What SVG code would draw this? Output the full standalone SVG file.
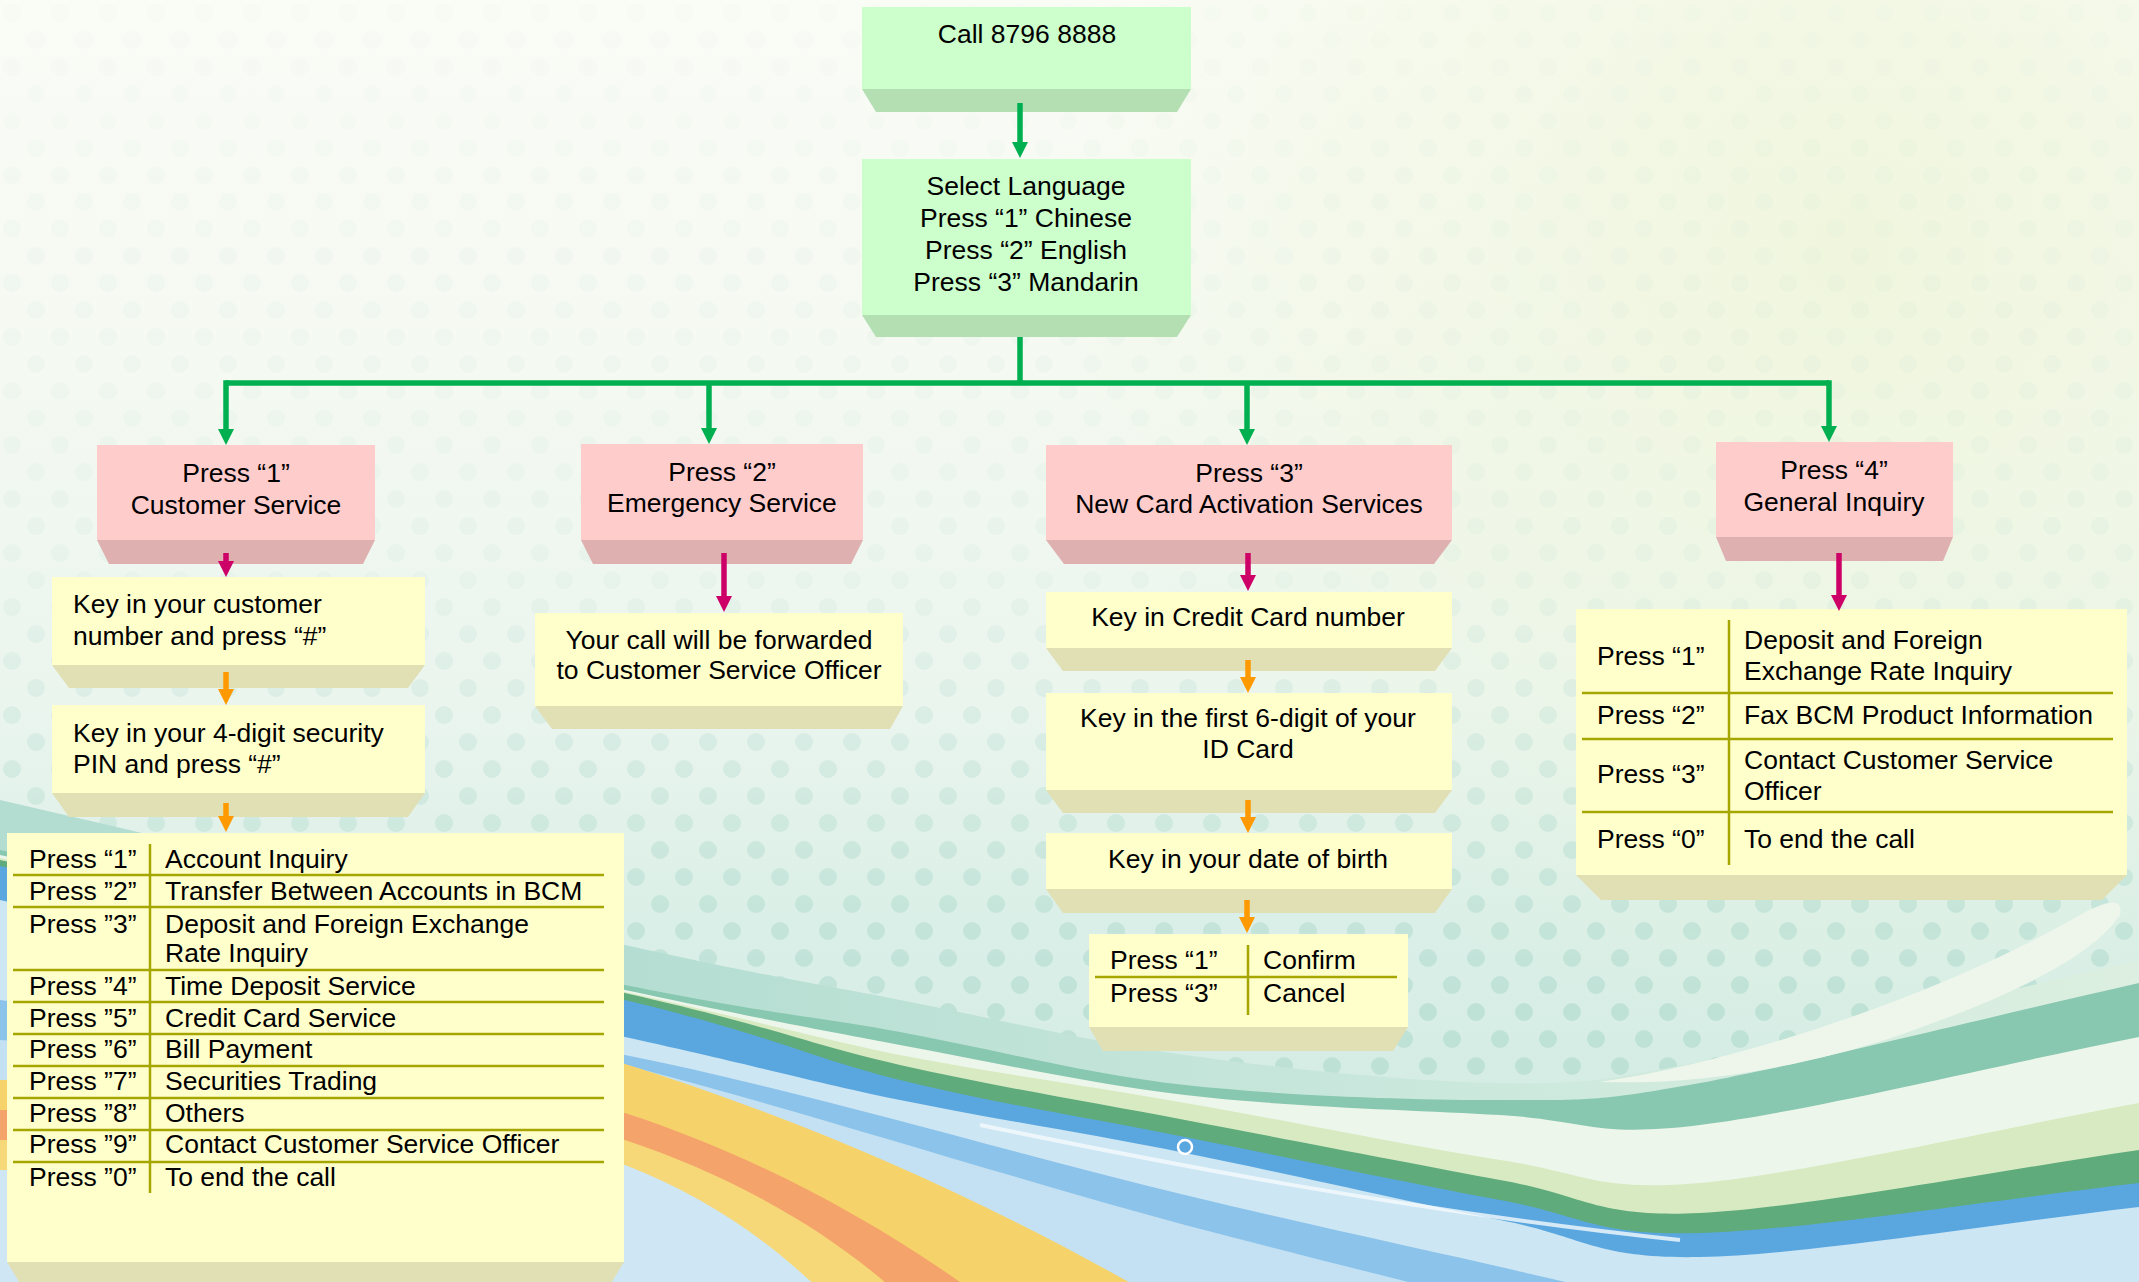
<svg xmlns="http://www.w3.org/2000/svg" width="2139" height="1282" viewBox="0 0 2139 1282">
<defs>
<style>
.t{font-family:"Liberation Sans",Arial,sans-serif;font-size:26.5px;fill:#000}
.c{text-anchor:middle}
.gf{fill:#ccffcc}.gb{fill:#b3dfb3}
.pf{fill:#ffcccc}.pb{fill:#dfb0b0}
.yf{fill:#ffffcc}.yb{fill:#e1dfb4}
.ln{stroke:#a6a600;stroke-width:2.5;fill:none}
.cg{stroke:#00b050;stroke-width:5.5;fill:none}
.cm{stroke:#cc0066;stroke-width:5.5;fill:none}
.co{stroke:#ff9900;stroke-width:5.5;fill:none}
</style>
<marker id="ag" markerUnits="userSpaceOnUse" markerWidth="16" markerHeight="16" refX="6" refY="8" orient="auto" viewBox="0 0 16 16"><path d="M0,0 L16,8 L0,16 Z" fill="#00b050"/></marker>
<marker id="am" markerUnits="userSpaceOnUse" markerWidth="16" markerHeight="16" refX="6" refY="8" orient="auto" viewBox="0 0 16 16"><path d="M0,0 L16,8 L0,16 Z" fill="#cc0066"/></marker>
<marker id="ao" markerUnits="userSpaceOnUse" markerWidth="16" markerHeight="16" refX="6" refY="8" orient="auto" viewBox="0 0 16 16"><path d="M0,0 L16,8 L0,16 Z" fill="#ff9900"/></marker>
<linearGradient id="bg" x1="0" y1="0" x2="0" y2="1">
<stop offset="0" stop-color="#fafcf6"/>
<stop offset="0.3" stop-color="#f4f9f1"/>
<stop offset="0.55" stop-color="#eaf5ee"/>
<stop offset="0.72" stop-color="#daefe7"/>
<stop offset="1" stop-color="#cfe9e1"/>
</linearGradient>
<radialGradient id="tint" cx="1850" cy="250" r="800" gradientUnits="userSpaceOnUse">
<stop offset="0" stop-color="#eef5d8" stop-opacity="0.8"/>
<stop offset="1" stop-color="#eef5d8" stop-opacity="0"/>
</radialGradient>
<pattern id="dots" width="48" height="54" patternUnits="userSpaceOnUse">
<circle cx="12" cy="13" r="9" fill="#b6ddd1"/>
<circle cx="36" cy="40" r="9" fill="#b6ddd1"/>
</pattern>
<linearGradient id="dm" x1="0" y1="0" x2="0" y2="1282" gradientUnits="userSpaceOnUse">
<stop offset="0" stop-color="#0a0a0a"/>
<stop offset="0.45" stop-color="#1e1e1e"/>
<stop offset="0.62" stop-color="#666"/>
<stop offset="0.78" stop-color="#bbb"/>
<stop offset="1" stop-color="#d0d0d0"/>
</linearGradient>
<mask id="dotmask"><rect width="2139" height="1282" fill="url(#dm)"/></mask>
<linearGradient id="w0" x1="600" y1="0" x2="2139" y2="0" gradientUnits="userSpaceOnUse">
<stop offset="0" stop-color="#b4ddd1"/>
<stop offset="0.5" stop-color="#c9e7dc"/>
<stop offset="1" stop-color="#dcefe0"/>
</linearGradient>
</defs>

<g id="background">
<rect width="2139" height="1282" fill="url(#bg)"/>
<rect width="2139" height="1282" fill="url(#tint)"/>
<rect width="2139" height="1282" fill="url(#dots)" mask="url(#dotmask)"/>
<path d="M0,800 C208,848 475,912 625,945 C775,978 807,982 900,1000 C993,1018 1085,1041 1185,1055 C1285,1069 1414,1082 1500,1083 C1586,1084 1594,1082 1700,1062 C1806,1041 1993,994 2139,960 L2139,1282 L0,1282 Z" fill="url(#w0)"/>
<path d="M0,850 C208,895 475,955 625,985 C775,1015 807,1015 900,1032 C993,1049 1085,1074 1185,1085 C1285,1096 1414,1100 1500,1100 C1586,1100 1594,1102 1700,1083 C1806,1063 1993,1016 2139,983 L2139,1282 L0,1282 Z" fill="#88c7b0"/>
<path d="M0,855 C208,900 475,958 625,990 C775,1022 807,1027 900,1045 C993,1062 1085,1083 1185,1095 C1285,1107 1414,1110 1500,1115 C1586,1120 1594,1138 1700,1125 C1806,1112 1993,1066 2139,1037 L2139,1282 L0,1282 Z" fill="#edf6ea"/>
<path d="M0,858 C208,903 475,959 625,992 C775,1025 807,1036 900,1055 C993,1073 1085,1085 1185,1103 C1285,1120 1414,1147 1500,1160 C1586,1173 1594,1192 1700,1183 C1806,1173 1993,1130 2139,1103 L2139,1282 L0,1282 Z" fill="#d8eac2"/>
<path d="M0,860 C208,904 475,959 625,993 C775,1027 807,1044 900,1065 C993,1086 1085,1101 1185,1120 C1285,1139 1414,1164 1500,1180 C1586,1195 1594,1218 1700,1213 C1806,1208 1993,1171 2139,1150 L2139,1282 L0,1282 Z" fill="#5fab7c"/>
<path d="M0,866 C208,911 475,964 625,1000 C775,1036 807,1057 900,1080 C993,1103 1085,1117 1185,1137 C1285,1157 1414,1184 1500,1200 C1586,1216 1594,1236 1700,1233 C1806,1230 1993,1200 2139,1183 L2139,1282 L0,1282 Z" fill="#5aa7e0"/>
<path d="M0,900 C208,946 475,1004 625,1037 C775,1070 807,1081 900,1100 C993,1119 1085,1133 1185,1153 C1285,1173 1414,1203 1500,1220 C1586,1237 1594,1259 1700,1257 C1806,1255 1993,1224 2139,1207 L2139,1282 L0,1282 Z" fill="#cde6f4"/>
<path d="M0,1000 C300,1040 500,1050 625,1055 C800,1090 1000,1150 1185,1195 C1350,1235 1500,1265 1640,1300 L0,1300 Z" fill="#8cc3ea"/>
<path d="M0,1040 C300,1060 500,1064 625,1065 C800,1110 1000,1175 1185,1225 C1300,1255 1400,1280 1480,1300 L0,1300 Z" fill="#c3e1f3"/>
<path d="M0,1080 C300,1075 500,1060 625,1064 C790,1115 980,1195 1160,1300 L0,1300 Z" fill="#f6d36a"/>
<path d="M0,1110 C300,1110 500,1105 625,1113 C740,1150 870,1215 985,1300 L0,1300 Z" fill="#f4a46a"/>
<path d="M0,1140 C300,1140 500,1135 625,1140 C730,1175 830,1230 905,1300 L0,1300 Z" fill="#f7d878"/>
<path d="M0,1170 C300,1170 500,1160 625,1165 C710,1198 775,1245 830,1300 L0,1300 Z" fill="#cfe6f4"/>
<path d="M980,1125 C1150,1160 1400,1210 1680,1240" stroke="#f4fafd" stroke-width="4" fill="none" opacity="0.8"/>
<path d="M1600,1082 C1750,1060 1950,990 2080,915 Q2125,890 2120,915 C2090,960 2000,1000 1900,1035 C1800,1068 1700,1085 1600,1082 Z" fill="#eef6ec"/>
<circle cx="1185" cy="1147" r="7" fill="none" stroke="#ffffff" stroke-width="2.5"/>
</g>

<g id="n-call">
<rect class="gf" x="862" y="7" width="329" height="82"/>
<polygon class="gb" points="862,89 1191,89 1177,112 876,112"/>
<text class="t c" x="1027" y="43">Call 8796 8888</text>
</g>

<g id="n-lang">
<rect class="gf" x="862" y="159" width="329" height="156"/>
<polygon class="gb" points="862,315 1191,315 1177,337 876,337"/>
<text class="t c" x="1026" y="195">Select Language</text>
<text class="t c" x="1026" y="227">Press “1” Chinese</text>
<text class="t c" x="1026" y="259">Press “2” English</text>
<text class="t c" x="1026" y="291">Press “3” Mandarin</text>
</g>

<g id="n-p1">
<rect class="pf" x="97" y="445" width="278" height="95"/>
<polygon class="pb" points="97,540 375,540 363,564 109,564"/>
<text class="t c" x="236" y="482">Press “1”</text>
<text class="t c" x="236" y="514">Customer Service</text>
</g>

<g id="n-p2">
<rect class="pf" x="581" y="444" width="282" height="96"/>
<polygon class="pb" points="581,540 863,540 851,564 593,564"/>
<text class="t c" x="722" y="481">Press “2”</text>
<text class="t c" x="722" y="512">Emergency Service</text>
</g>

<g id="n-p3">
<rect class="pf" x="1046" y="445" width="406" height="95"/>
<polygon class="pb" points="1046,540 1452,540 1434,564 1064,564"/>
<text class="t c" x="1249" y="482">Press “3”</text>
<text class="t c" x="1249" y="513">New Card Activation Services</text>
</g>

<g id="n-p4">
<rect class="pf" x="1716" y="442" width="237" height="95"/>
<polygon class="pb" points="1716,537 1953,537 1943,561 1726,561"/>
<text class="t c" x="1834" y="479">Press “4”</text>
<text class="t c" x="1834" y="511">General Inquiry</text>
</g>

<g id="n-cust">
<rect class="yf" x="52" y="577" width="373" height="88"/>
<polygon class="yb" points="52,665 425,665 408,688 69,688"/>
<text class="t" x="73" y="613">Key in your customer</text>
<text class="t" x="73" y="645">number and press “#”</text>
</g>

<g id="n-pin">
<rect class="yf" x="52" y="705" width="373" height="88"/>
<polygon class="yb" points="52,793 425,793 408,817 69,817"/>
<text class="t" x="73" y="742">Key in your 4-digit security</text>
<text class="t" x="73" y="773">PIN and press “#”</text>
</g>

<g id="n-menu1">
<rect class="yf" x="7" y="833" width="617" height="429"/>
<polygon class="yb" points="7,1262 624,1262 607,1290 24,1290"/>
<path class="ln" d="M150,844 V1193 M13,875 H604 M13,907 H604 M13,970 H604 M13,1002 H604 M13,1034 H604 M13,1066 H604 M13,1098 H604 M13,1130 H604 M13,1162 H604"/>
<text class="t" x="29" y="868">Press “1”</text>
<text class="t" x="165" y="868">Account Inquiry</text>
<text class="t" x="29" y="900">Press ”2”</text>
<text class="t" x="165" y="900">Transfer Between Accounts in BCM</text>
<text class="t" x="29" y="933">Press ”3”</text>
<text class="t" x="165" y="933">Deposit and Foreign Exchange</text>
<text class="t" x="165" y="962">Rate Inquiry</text>
<text class="t" x="29" y="995">Press ”4”</text>
<text class="t" x="165" y="995">Time Deposit Service</text>
<text class="t" x="29" y="1027">Press ”5”</text>
<text class="t" x="165" y="1027">Credit Card Service</text>
<text class="t" x="29" y="1058">Press ”6”</text>
<text class="t" x="165" y="1058">Bill Payment</text>
<text class="t" x="29" y="1090">Press ”7”</text>
<text class="t" x="165" y="1090">Securities Trading</text>
<text class="t" x="29" y="1122">Press ”8”</text>
<text class="t" x="165" y="1122">Others</text>
<text class="t" x="29" y="1153">Press ”9”</text>
<text class="t" x="165" y="1153">Contact Customer Service Officer</text>
<text class="t" x="29" y="1186">Press ”0”</text>
<text class="t" x="165" y="1186">To end the call</text>
</g>

<g id="n-fwd">
<rect class="yf" x="535" y="613" width="368" height="93"/>
<polygon class="yb" points="535,706 903,706 890,729 552,729"/>
<text class="t c" x="719" y="649">Your call will be forwarded</text>
<text class="t c" x="719" y="679">to Customer Service Officer</text>
</g>

<g id="n-card">
<rect class="yf" x="1046" y="592" width="406" height="56"/>
<polygon class="yb" points="1046,648 1452,648 1435,671 1063,671"/>
<text class="t c" x="1248" y="626">Key in Credit Card number</text>
</g>

<g id="n-id">
<rect class="yf" x="1046" y="693" width="406" height="97"/>
<polygon class="yb" points="1046,790 1452,790 1435,813 1063,813"/>
<text class="t c" x="1248" y="727">Key in the first 6-digit of your</text>
<text class="t c" x="1248" y="758">ID Card</text>
</g>

<g id="n-dob">
<rect class="yf" x="1046" y="833" width="406" height="56"/>
<polygon class="yb" points="1046,889 1452,889 1435,913 1063,913"/>
<text class="t c" x="1248" y="868">Key in your date of birth</text>
</g>

<g id="n-confirm">
<rect class="yf" x="1089" y="934" width="319" height="93"/>
<polygon class="yb" points="1089,1027 1408,1027 1393,1051 1103,1051"/>
<path class="ln" d="M1248,945 V1015 M1095,977 H1397"/>
<text class="t" x="1110" y="969">Press “1”</text>
<text class="t" x="1263" y="969">Confirm</text>
<text class="t" x="1110" y="1002">Press “3”</text>
<text class="t" x="1263" y="1002">Cancel</text>
</g>

<g id="n-menu4">
<rect class="yf" x="1576" y="609" width="551" height="266"/>
<polygon class="yb" points="1576,875 2127,875 2102,900 1601,900"/>
<path class="ln" d="M1729,620 V865 M1582,693 H2113 M1582,739 H2113 M1582,812 H2113"/>
<text class="t" x="1597" y="665">Press “1”</text>
<text class="t" x="1744" y="649">Deposit and Foreign</text>
<text class="t" x="1744" y="680">Exchange Rate Inquiry</text>
<text class="t" x="1597" y="724">Press “2”</text>
<text class="t" x="1744" y="724">Fax BCM Product Information</text>
<text class="t" x="1597" y="783">Press “3”</text>
<text class="t" x="1744" y="769">Contact Customer Service</text>
<text class="t" x="1744" y="800">Officer</text>
<text class="t" x="1597" y="848">Press “0”</text>
<text class="t" x="1744" y="848">To end the call</text>
</g>

<g id="connectors">
<path class="cg" d="M1020,103 V148" marker-end="url(#ag)"/>
<path class="cg" d="M1020,337 V383 M226,383 H1829"/>
<path class="cg" d="M226,380.25 V435" marker-end="url(#ag)"/>
<path class="cg" d="M709,383 V434" marker-end="url(#ag)"/>
<path class="cg" d="M1247,383 V435" marker-end="url(#ag)"/>
<path class="cg" d="M1829,380.25 V432" marker-end="url(#ag)"/>
<path class="cm" d="M226,553 V567" marker-end="url(#am)"/>
<path class="cm" d="M724,553 V602" marker-end="url(#am)"/>
<path class="cm" d="M1248,553 V581" marker-end="url(#am)"/>
<path class="cm" d="M1839,553 V601" marker-end="url(#am)"/>
<path class="co" d="M226,672 V695" marker-end="url(#ao)"/>
<path class="co" d="M226,803 V822" marker-end="url(#ao)"/>
<path class="co" d="M1248,660 V683" marker-end="url(#ao)"/>
<path class="co" d="M1248,800 V823" marker-end="url(#ao)"/>
<path class="co" d="M1247,900 V923" marker-end="url(#ao)"/>
</g>
</svg>
